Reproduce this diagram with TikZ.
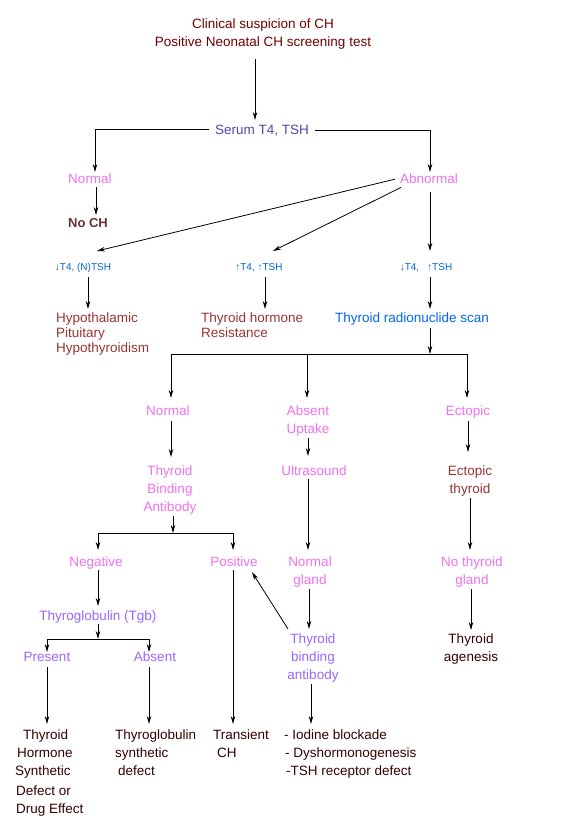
\documentclass[tikz,border=0pt]{standalone}
\usepackage{fontspec}
\setmainfont{Liberation Sans}
\usetikzlibrary{arrows.meta}
\definecolor{topred}{HTML}{700000}
\definecolor{slateb}{HTML}{5544AA}
\definecolor{pinkc}{HTML}{F070F0}
\definecolor{nochc}{HTML}{663333}
\definecolor{lblue}{HTML}{0066CC}
\definecolor{brownred}{HTML}{993333}
\definecolor{scanblue}{HTML}{0066EE}
\definecolor{purp}{HTML}{9966FF}
\definecolor{darkc}{HTML}{330000}
\begin{document}
\begin{tikzpicture}[x=1pt,y=1pt,
  one/.style={inner sep=1pt, text height=9.5pt, text depth=2.5pt, font=\fontsize{13.5}{18}\selectfont, anchor=north},
  multi/.style={inner sep=1pt, font=\fontsize{13.5}{18}\selectfont, align=center, anchor=north},
  multil/.style={inner sep=1pt, font=\fontsize{13.5}{18}\selectfont, align=left, anchor=north west},
  sm/.style={inner sep=1pt, text height=7.2pt, text depth=2.1pt, font=\fontsize{10}{12}\selectfont, anchor=north, text=lblue},
  arr/.style={-{Stealth[length=8pt,width=4.5pt]}, line width=0.8pt},
  ln/.style={line width=0.8pt}]
\useasboundingbox (0,0) rectangle (576,-835);

% nodes
\node[multi, text=topred] (top) at (263,-18) {Clinical suspicion of CH\\Positive Neonatal CH screening test};
\node[one, text=slateb] (serum) at (262,-124) {Serum T4, TSH};
\node[one, text=pinkc] (norm1) at (90,-173) {Normal};
\node[one, text=nochc, font=\fontsize{13}{18}\selectfont\bfseries] (noch) at (88,-217) {No CH};
\node[one, text=pinkc] (abn) at (429,-173) {Abnormal};
\node[sm] (lab1) at (83,-262.4) {↓T4, (N)TSH};
\node[sm] (lab2) at (259,-262.4) {↑T4, ↑TSH};
\node[sm] (lab3) at (426,-262.4) {↓T4,\hspace{8pt}↑TSH};
\node[multil, text=brownred, font=\fontsize{13.5}{15}\selectfont] (hypo) at (55,-312) {Hypothalamic\\Pituitary\\Hypothyroidism};
\node[multil, text=brownred, font=\fontsize{13.5}{15}\selectfont] (resist) at (200,-312) {Thyroid hormone\\Resistance};
\node[one, text=scanblue] (scan) at (412,-312) {Thyroid radionuclide scan};
\node[one, text=pinkc] (norm2) at (168,-405) {Normal};
\node[multi, text=pinkc] (absent) at (308,-405) {Absent\\Uptake};
\node[one, text=pinkc] (ectopic) at (468,-405) {Ectopic};
\node[multi, text=pinkc] (tba) at (170,-465) {Thyroid\\Binding\\Antibody};
\node[one, text=pinkc] (ultra) at (314,-465) {Ultrasound};
\node[multi, text=brownred] (ectthy) at (470,-465) {Ectopic\\thyroid};
\node[one, text=pinkc] (neg) at (96,-556) {Negative};
\node[one, text=pinkc] (pos) at (234,-556) {Positive};
\node[multi, text=pinkc] (ngland) at (310,-556) {Normal\\gland};
\node[multi, text=pinkc] (nothy) at (472,-556) {No thyroid\\gland};
\node[one, text=purp] (tgb) at (98,-610) {Thyroglobulin (Tgb)};
\node[one, text=purp] (present) at (47,-651) {Present};
\node[one, text=purp] (absent2) at (155,-651) {Absent};
\node[multi, text=purp] (tba2) at (313,-633) {Thyroid\\binding\\antibody};
\node[multi, text=darkc] (agen) at (471,-633) {Thyroid\\agenesis};
\node[multil, text=darkc] (horm) at (14,-729) {\hspace*{8pt}Thyroid\\\hspace*{2pt}Hormone\\Synthetic\\[2pt]\hspace*{1pt}Defect or\\\hspace*{1pt}Drug Effect};
\node[multil, text=darkc] (tgdef) at (114,-729) {Thyroglobulin\\synthetic\\\hspace*{3pt}defect};
\node[multil, text=darkc] (trans) at (212,-729) {Transient\\\hspace*{4pt}CH};
\node[multil, text=darkc] (iod) at (283,-729) {- Iodine blockade\\\hspace*{1pt}- Dyshormonogenesis\\\hspace*{2pt}-TSH receptor defect};

% junction coordinates
\coordinate (bar1) at (171,-354);
\coordinate (bar2) at (467,-354);
\coordinate (bar3) at (307,-354);
\coordinate (bar4) at (98,-533);
\coordinate (bar5) at (233,-533);
\coordinate (bar6) at (47,-639);
\coordinate (bar7) at (149,-639);

% connectors
\draw[arr] ([shift={(-8,-8.5)}]top.south) -- ([shift={(-7,4)}]serum.north);
\draw[arr] ([shift={(-5,2)}]serum.west) -| ([shift={(5,1)}]norm1.north);
\draw[arr] ([shift={(5,1)}]serum.east) -| ([shift={(1,1)}]abn.north);
\draw[arr] ([xshift=6]norm1.south) -- ([shift={(8,2)}]noch.north);
\draw[arr] ([shift={(-4,1)}]abn.west) -- ([shift={(14,11.4)}]lab1.north);
\draw[arr] ([xshift=-28]abn.south) -- ([shift={(14,11.4)}]lab2.north);
\draw[arr] ([shift={(1,-4.75)}]abn.south) -- ([shift={(4,11.4)}]lab3.north);
\draw[arr] ([shift={(5,-3.3)}]lab1.south) -- ([shift={(33,3)}]hypo.north west);
\draw[arr] ([shift={(6,-3.3)}]lab2.south) -- ([shift={(65,3)}]resist.north west);
\draw[arr] ([shift={(4,-3.3)}]lab3.south) -- ([shift={(18,3)}]scan.north);
\draw[arr] ([shift={(18,-1.75)}]scan.south) -- ([xshift=18]scan.south |- bar2);
\draw[ln] (bar1) -- (bar2);
\draw[arr] (bar1) -- ([shift={(3,7)}]norm2.north);
\draw[arr] (bar3) -- ([shift={(-1,7)}]absent.north);
\draw[arr] (bar2) -- ([shift={(-1,7)}]ectopic.north);
\draw[arr] ([shift={(3,-1.75)}]norm2.south) -- ([shift={(1,8)}]tba.north);
\draw[arr] (absent.south) -- ([shift={(-6,9)}]ultra.north);
\draw[arr] ([yshift=-1.75]ectopic.south) -- ([shift={(-2,13)}]ectthy.north);
\draw[arr] ([xshift=3]tba.south) -- ([xshift=3]tba.south |- bar4);
\draw[ln] (bar4) -- (bar5);
\draw[arr] (bar4) -- ([shift={(2,6)}]neg.north);
\draw[arr] (bar5) -- ([shift={(-1,6)}]pos.north);
\draw[arr] ([xshift=-6]ultra.south) -- ([shift={(-2,6)}]ngland.north);
\draw[arr] (ectthy.south) -- ([shift={(-2,6)}]nothy.north);
\draw[arr] ([xshift=2]neg.south) -- ([shift={(0,4)}]tgb.north);
\draw[arr] (tgb.south) -- (tgb.south |- bar6);
\draw[ln] (bar6) -- (bar7);
\draw[arr] (bar6) -- ([yshift=-1]present.north);
\draw[arr] (bar7) -- ([shift={(-6,-1)}]absent2.north);
\draw[arr] ([xshift=-1]pos.south) -- ([shift={(21,5)}]trans.north west);
\draw[arr] ([shift={(-25,4)}]tba2.north) -- ([shift={(18,-1.75)}]pos.south);
\draw[arr] ([xshift=-1]ngland.south) -- ([shift={(-4,4)}]tba2.north);
\draw[arr] ([xshift=-1]nothy.south) -- ([shift={(0,3)}]agen.north);
\draw[arr] ([xshift=-2]tba2.south) -- ([shift={(28,5)}]iod.north west);
\draw[arr] ([yshift=-1.75]present.south) -- ([shift={(33,5)}]horm.north west);
\draw[arr] ([shift={(-6,-1.75)}]absent2.south) -- ([shift={(35,5)}]tgdef.north west);
\end{tikzpicture}
\end{document}
